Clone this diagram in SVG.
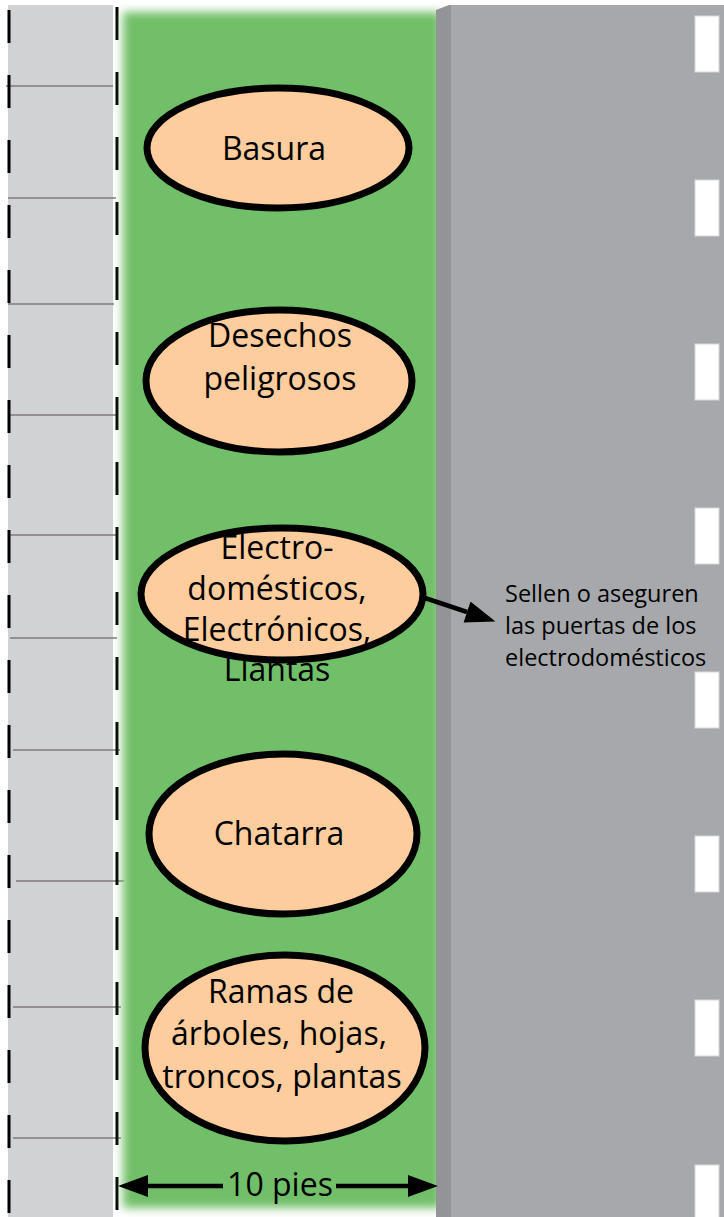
<svg xmlns="http://www.w3.org/2000/svg" width="724" height="1217" viewBox="0 0 724 1217">
<style>
.lbl{font-family:"Open Sans","Liberation Sans",sans-serif;font-size:32px;fill:#000;text-anchor:middle}
.note{font-family:"Open Sans","Liberation Sans",sans-serif;font-size:23.5px;fill:#000}
.node{fill:#fdcd9d;stroke:#000;stroke-width:7}
.dash{stroke:#000;stroke-width:3;stroke-dasharray:33 32}
.hl{stroke:#7d7a7a;stroke-width:1.3}
.lane{fill:#fff;stroke:#d6d7d9;stroke-width:1}
.arr{stroke:#000;stroke-width:4.5;fill:none}
</style>
<defs>
<filter id="soft" x="-10%" y="-5%" width="120%" height="110%"><feGaussianBlur stdDeviation="5"/></filter>
<marker id="head" markerUnits="userSpaceOnUse" markerWidth="31" markerHeight="23" refX="0" refY="11" orient="auto"><path d="M0,0 L30,11 L0,22 Z" fill="#000"/></marker>
</defs>
<rect width="724" height="1217" fill="#fff"/>
<g id="sidewalk">
<rect x="8" y="5" width="105" height="1212" fill="#d1d2d4"/>
<line x1="6" y1="86" x2="113" y2="86" class="hl"/>
<line x1="8" y1="198" x2="116" y2="198" class="hl"/>
<line x1="8" y1="304" x2="114" y2="304" class="hl"/>
<line x1="8" y1="415" x2="116" y2="415" class="hl"/>
<line x1="8" y1="535" x2="116" y2="535" class="hl"/>
<line x1="10" y1="638" x2="117" y2="638" class="hl"/>
<line x1="13" y1="750" x2="120" y2="750" class="hl"/>
<line x1="16" y1="881" x2="124" y2="881" class="hl"/>
<line x1="13" y1="1007" x2="121" y2="1007" class="hl"/>
<line x1="13" y1="1138" x2="121" y2="1138" class="hl"/>
<line x1="9" y1="10" x2="9" y2="1217" class="dash"/>
<line x1="117" y1="7" x2="117" y2="1217" class="dash"/>
</g>
<g id="grass">
<rect x="123" y="12" width="318" height="1196" fill="#71bf67" filter="url(#soft)"/>
</g>
<g id="road">
<rect x="451" y="5" width="273" height="1212" fill="#a6a8ab"/>
<polygon points="436,10 449,5 451,5 451,1217 436,1217" fill="#929497"/>
<rect x="695" y="16" width="24" height="56" class="lane"/>
<rect x="695" y="180" width="24" height="56" class="lane"/>
<rect x="695" y="344" width="24" height="56" class="lane"/>
<rect x="695" y="508" width="24" height="56" class="lane"/>
<rect x="695" y="672" width="24" height="56" class="lane"/>
<rect x="695" y="836" width="24" height="56" class="lane"/>
<rect x="695" y="1000" width="24" height="56" class="lane"/>
<rect x="695" y="1165" width="24" height="56" class="lane"/>
</g>
<g id="basura">
<ellipse cx="278" cy="148" rx="131" ry="60" class="node"/>
<text x="274" y="160" class="lbl">Basura</text>
</g>
<g id="desechos">
<ellipse cx="279" cy="381" rx="133" ry="71" class="node"/>
<text x="280" y="347" class="lbl">Desechos</text>
<text x="280" y="390" class="lbl">peligrosos</text>
</g>
<g id="electro">
<ellipse cx="282" cy="594" rx="141" ry="66" class="node"/>
<text x="277" y="559" class="lbl">Electro-</text>
<text x="277" y="600" class="lbl">domésticos,</text>
<text x="277" y="641" class="lbl">Electrónicos,</text>
<text x="277" y="681" class="lbl">Llantas</text>
</g>
<g id="chatarra">
<ellipse cx="283" cy="834" rx="134" ry="80" class="node"/>
<text x="279" y="845" class="lbl">Chatarra</text>
</g>
<g id="ramas">
<ellipse cx="285" cy="1048" rx="140" ry="93" class="node"/>
<text x="281" y="1003" class="lbl">Ramas de</text>
<text x="279" y="1045" class="lbl">árboles, hojas,</text>
<text x="282" y="1088" class="lbl">troncos, plantas</text>
</g>
<g id="connectors">
<line x1="425" y1="598" x2="467" y2="612" class="arr" marker-end="url(#head)"/>
<line x1="223" y1="1186" x2="148" y2="1186" class="arr" marker-end="url(#head)"/>
<line x1="336" y1="1186" x2="408" y2="1186" class="arr" marker-end="url(#head)"/>
</g>
<g id="labels">
<text x="280" y="1196" class="lbl">10 pies</text>
<text x="505" y="602" class="note">Sellen o aseguren</text>
<text x="505" y="634" class="note">las puertas de los</text>
<text x="505" y="666" class="note">electrodomésticos</text>
</g>
</svg>
